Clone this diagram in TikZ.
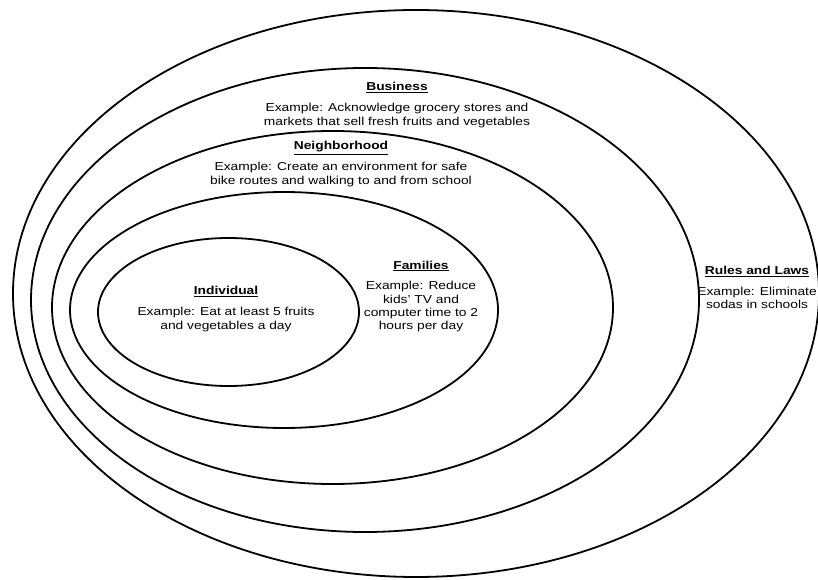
\documentclass[tikz,border=0pt]{standalone}
\usepackage{fontspec}
\setmainfont{Liberation Sans}[FakeStretch=1.2]
\usepackage{tikz}
\usetikzlibrary{shapes.geometric, positioning}
\definecolor{ringblack}{RGB}{0,0,0}
\tikzset{
    ring/.style={ellipse, draw=ringblack, line width=1.8pt, inner sep=0pt, outer sep=0pt},
    layer/.style={align=center, inner sep=0pt, font=\fontsize{11.5}{13.3}\selectfont},
}
\newcommand{\layertitle}[1]{\textbf{\underline{#1}}}

\begin{document}
\begin{tikzpicture}[x=1pt, y=1pt]
    \useasboundingbox (0,0) rectangle (818,579);
    % nested spheres of influence
    \node[ring, minimum width=806pt, minimum height=567pt] (rules) at (416,285.5) {};
    \node[ring, minimum width=668pt, minimum height=464pt] (business) at (365,279) {};
    \node[ring, minimum width=561pt, minimum height=353pt] (hood) at (332.5,271.5) {};
    \node[ring, minimum width=428pt, minimum height=236pt] (families) at (284,269) {};
    \node[ring, minimum width=261pt, minimum height=148pt] (individual) at (228.5,267) {};
    % labels
    \node[layer] (businessText) at (397,474) {\layertitle{Business}\\[7.5pt]
        Example: Acknowledge grocery stores and\\markets that sell fresh fruits and vegetables};
    \node[layer] (hoodText) at (341,415) {\layertitle{Neighborhood}\\[7.5pt]
        Example: Create an environment for safe\\bike routes and walking to and from school};
    \node[layer] (familiesText) at (421,282.5) {\layertitle{Families}\\[7.5pt]
        Example: Reduce\\kids' TV and\\computer time to 2\\hours per day};
    \node[layer] (individualText) at (226,270) {\layertitle{Individual}\\[7.5pt]
        Example: Eat at least 5 fruits\\and vegetables a day};
    \node[layer] (rulesText) at (757,291.5) {\layertitle{Rules and Laws}\\[7.5pt]
        Example: Eliminate\\sodas in schools};
\end{tikzpicture}
\end{document}
